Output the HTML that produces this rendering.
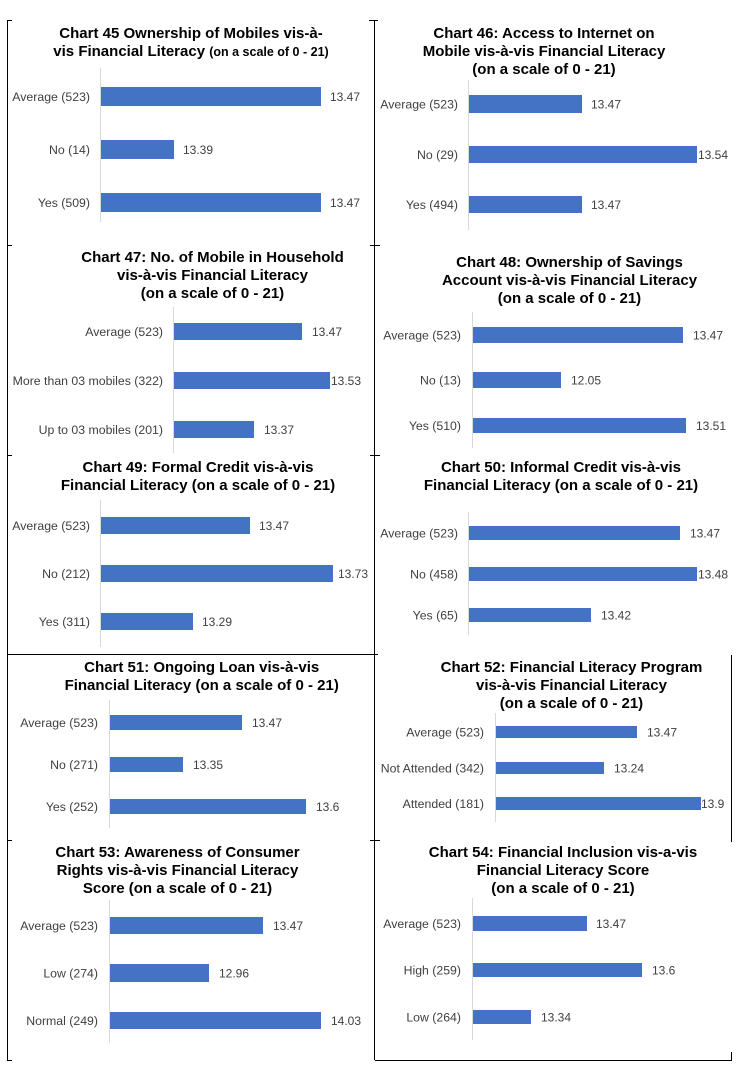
<!DOCTYPE html>
<html>
<head>
<meta charset="utf-8">
<style>
  html,body{margin:0;padding:0;background:#fff;}
  svg{display:block;}
  .t{font-family:"Liberation Sans",Arial,sans-serif;font-weight:bold;font-size:15px;fill:#000;text-anchor:middle;}
  .s{font-size:12.5px;}
  .l{font-family:"Liberation Sans",Arial,sans-serif;font-size:12.3px;fill:#404040;text-anchor:end;}
  .v{font-family:"Liberation Sans",Arial,sans-serif;font-size:12px;fill:#404040;}
  .b{fill:#4472C4;}
  .ax{stroke:#d9d9d9;stroke-width:1;}
  .bd{stroke:#000;stroke-width:1;}
</style>
</head>
<body>
<svg width="738" height="1072" viewBox="0 0 738 1072" xmlns="http://www.w3.org/2000/svg">
  <!-- borders -->
  <line class="bd" x1="7.5" y1="20" x2="7.5" y2="1060"/>
  <line class="bd" x1="374.5" y1="20" x2="374.5" y2="1060"/>
  <line class="bd" x1="7" y1="654.5" x2="378" y2="654.5"/>
  <line class="bd" x1="375" y1="1060.5" x2="731" y2="1060.5"/>
  <line class="bd" x1="731.5" y1="655" x2="731.5" y2="838"/>
  <line class="bd" x1="731.5" y1="832" x2="731.5" y2="842"/>
  <line class="bd" x1="731.5" y1="1052" x2="731.5" y2="1061"/>
  <!-- ticks left -->
  <line class="bd" x1="7" y1="20.5" x2="12" y2="20.5"/>
  <line class="bd" x1="7" y1="245.5" x2="12" y2="245.5"/>
  <line class="bd" x1="7" y1="455.5" x2="12" y2="455.5"/>
  <line class="bd" x1="7" y1="840.5" x2="12" y2="840.5"/>
  <line class="bd" x1="7" y1="1060.5" x2="12" y2="1060.5"/>
  <!-- ticks middle -->
  <line class="bd" x1="369" y1="20.5" x2="378" y2="20.5"/>
  <line class="bd" x1="370" y1="245.5" x2="380" y2="245.5"/>
  <line class="bd" x1="370" y1="455.5" x2="380" y2="455.5"/>
  <line class="bd" x1="370" y1="840.5" x2="380" y2="840.5"/>

  <!-- Chart 45 -->
  <text class="t" x="191" y="38">Chart 45 Ownership of Mobiles vis-à-</text>
  <text class="t" x="191" y="56">vis Financial Literacy <tspan class="s">(on a scale of 0 - 21)</tspan></text>
  <line class="ax" x1="100.5" y1="68" x2="100.5" y2="222"/>
  <rect class="b" x="101" y="87" width="220" height="19"/>
  <rect class="b" x="101" y="140" width="73" height="19"/>
  <rect class="b" x="101" y="193" width="220" height="19"/>
  <text class="l" x="90" y="101">Average (523)</text>
  <text class="l" x="90" y="154">No (14)</text>
  <text class="l" x="90" y="207">Yes (509)</text>
  <text class="v" x="330" y="101">13.47</text>
  <text class="v" x="183" y="154">13.39</text>
  <text class="v" x="330" y="207">13.47</text>

  <!-- Chart 46 -->
  <text class="t" x="544" y="38">Chart 46: Access to Internet on</text>
  <text class="t" x="544" y="56">Mobile vis-à-vis Financial Literacy</text>
  <text class="t" x="544" y="74">(on a scale of 0 - 21)</text>
  <line class="ax" x1="468.5" y1="80" x2="468.5" y2="230"/>
  <rect class="b" x="469" y="95" width="113" height="18"/>
  <rect class="b" x="469" y="146" width="228" height="17"/>
  <rect class="b" x="469" y="196" width="113" height="17"/>
  <text class="l" x="458" y="108.5">Average (523)</text>
  <text class="l" x="458" y="159">No (29)</text>
  <text class="l" x="458" y="209">Yes (494)</text>
  <text class="v" x="591" y="108.5">13.47</text>
  <text class="v" x="698" y="159">13.54</text>
  <text class="v" x="591" y="209">13.47</text>

  <!-- Chart 47 -->
  <text class="t" x="212.5" y="262">Chart 47: No. of Mobile in Household</text>
  <text class="t" x="212.5" y="280">vis-à-vis Financial Literacy</text>
  <text class="t" x="212.5" y="298">(on a scale of 0 - 21)</text>
  <line class="ax" x1="173.5" y1="307" x2="173.5" y2="453"/>
  <rect class="b" x="174" y="323" width="128" height="17"/>
  <rect class="b" x="174" y="372" width="156" height="17"/>
  <rect class="b" x="174" y="421" width="80" height="17"/>
  <text class="l" x="163" y="335.8">Average (523)</text>
  <text class="l" x="163" y="384.8">More than 03 mobiles (322)</text>
  <text class="l" x="163" y="433.8">Up to 03 mobiles (201)</text>
  <text class="v" x="312" y="335.8">13.47</text>
  <text class="v" x="331" y="384.8">13.53</text>
  <text class="v" x="264" y="433.8">13.37</text>

  <!-- Chart 48 -->
  <text class="t" x="569.5" y="267">Chart 48: Ownership of Savings</text>
  <text class="t" x="569.5" y="285">Account vis-à-vis Financial Literacy</text>
  <text class="t" x="569.5" y="303">(on a scale of 0 - 21)</text>
  <line class="ax" x1="472.5" y1="312" x2="472.5" y2="448"/>
  <rect class="b" x="473" y="327" width="210" height="16"/>
  <rect class="b" x="473" y="372" width="88" height="16"/>
  <rect class="b" x="473" y="418" width="213" height="15"/>
  <text class="l" x="461" y="339.3">Average (523)</text>
  <text class="l" x="461" y="384.3">No (13)</text>
  <text class="l" x="461" y="429.8">Yes (510)</text>
  <text class="v" x="693" y="339.3">13.47</text>
  <text class="v" x="571" y="384.3">12.05</text>
  <text class="v" x="696" y="429.8">13.51</text>

  <!-- Chart 49 -->
  <text class="t" x="198" y="472">Chart 49: Formal Credit vis-à-vis</text>
  <text class="t" x="198" y="490">Financial Literacy (on a scale of 0 - 21)</text>
  <line class="ax" x1="100.5" y1="500" x2="100.5" y2="647"/>
  <rect class="b" x="101" y="517" width="149" height="17"/>
  <rect class="b" x="101" y="565" width="232" height="17"/>
  <rect class="b" x="101" y="613" width="92" height="17"/>
  <text class="l" x="90" y="529.8">Average (523)</text>
  <text class="l" x="90" y="577.8">No (212)</text>
  <text class="l" x="90" y="625.8">Yes (311)</text>
  <text class="v" x="259" y="529.8">13.47</text>
  <text class="v" x="338" y="577.8">13.73</text>
  <text class="v" x="202" y="625.8">13.29</text>

  <!-- Chart 50 -->
  <text class="t" x="561" y="472">Chart 50: Informal Credit vis-à-vis</text>
  <text class="t" x="561" y="490">Financial Literacy (on a scale of 0 - 21)</text>
  <line class="ax" x1="468.5" y1="512" x2="468.5" y2="635"/>
  <rect class="b" x="469" y="526" width="211" height="14"/>
  <rect class="b" x="469" y="567" width="228" height="14"/>
  <rect class="b" x="469" y="608" width="122" height="14"/>
  <text class="l" x="458" y="537.3">Average (523)</text>
  <text class="l" x="458" y="578.3">No (458)</text>
  <text class="l" x="458" y="619.3">Yes (65)</text>
  <text class="v" x="690" y="537.3">13.47</text>
  <text class="v" x="698" y="578.3">13.48</text>
  <text class="v" x="601" y="619.3">13.42</text>

  <!-- Chart 51 -->
  <text class="t" x="201.7" y="672">Chart 51: Ongoing Loan vis-à-vis</text>
  <text class="t" x="201.7" y="690">Financial Literacy (on a scale of 0 - 21)</text>
  <line class="ax" x1="109.5" y1="700" x2="109.5" y2="828"/>
  <rect class="b" x="110" y="715" width="132" height="15"/>
  <rect class="b" x="110" y="757" width="73" height="15"/>
  <rect class="b" x="110" y="799" width="196" height="15"/>
  <text class="l" x="98" y="726.8">Average (523)</text>
  <text class="l" x="98" y="768.8">No (271)</text>
  <text class="l" x="98" y="810.8">Yes (252)</text>
  <text class="v" x="252" y="726.8">13.47</text>
  <text class="v" x="193" y="768.8">13.35</text>
  <text class="v" x="316" y="810.8">13.6</text>

  <!-- Chart 52 -->
  <text class="t" x="571.5" y="672">Chart 52: Financial Literacy Program</text>
  <text class="t" x="571.5" y="690">vis-à-vis Financial Literacy</text>
  <text class="t" x="571.5" y="708">(on a scale of 0 - 21)</text>
  <line class="ax" x1="495.5" y1="713" x2="495.5" y2="822"/>
  <rect class="b" x="496" y="726" width="141" height="12"/>
  <rect class="b" x="496" y="762" width="108" height="12"/>
  <rect class="b" x="496" y="797" width="205" height="13"/>
  <text class="l" x="484" y="736.3">Average (523)</text>
  <text class="l" x="484" y="772.3">Not Attended (342)</text>
  <text class="l" x="484" y="807.8">Attended (181)</text>
  <text class="v" x="647" y="736.3">13.47</text>
  <text class="v" x="614" y="772.3">13.24</text>
  <text class="v" x="701" y="807.8">13.9</text>

  <!-- Chart 53 -->
  <text class="t" x="177.5" y="857">Chart 53: Awareness of Consumer</text>
  <text class="t" x="177.5" y="875">Rights vis-à-vis Financial Literacy</text>
  <text class="t" x="177.5" y="893">Score (on a scale of 0 - 21)</text>
  <line class="ax" x1="109.5" y1="900" x2="109.5" y2="1043"/>
  <rect class="b" x="110" y="917" width="153" height="17"/>
  <rect class="b" x="110" y="964" width="99" height="18"/>
  <rect class="b" x="110" y="1012" width="211" height="17"/>
  <text class="l" x="98" y="929.8">Average (523)</text>
  <text class="l" x="98" y="977.3">Low (274)</text>
  <text class="l" x="98" y="1024.8">Normal (249)</text>
  <text class="v" x="273" y="929.8">13.47</text>
  <text class="v" x="219" y="977.3">12.96</text>
  <text class="v" x="331" y="1024.8">14.03</text>

  <!-- Chart 54 -->
  <text class="t" x="563" y="857">Chart 54: Financial Inclusion vis-a-vis</text>
  <text class="t" x="563" y="875">Financial Literacy Score</text>
  <text class="t" x="563" y="893">(on a scale of 0 - 21)</text>
  <line class="ax" x1="472.5" y1="898" x2="472.5" y2="1040"/>
  <rect class="b" x="473" y="916" width="114" height="15"/>
  <rect class="b" x="473" y="963" width="169" height="14"/>
  <rect class="b" x="473" y="1010" width="58" height="14"/>
  <text class="l" x="461" y="927.8">Average (523)</text>
  <text class="l" x="461" y="974.3">High (259)</text>
  <text class="l" x="461" y="1021.3">Low (264)</text>
  <text class="v" x="596" y="927.8">13.47</text>
  <text class="v" x="652" y="974.3">13.6</text>
  <text class="v" x="541" y="1021.3">13.34</text>
</svg>
</body>
</html>
